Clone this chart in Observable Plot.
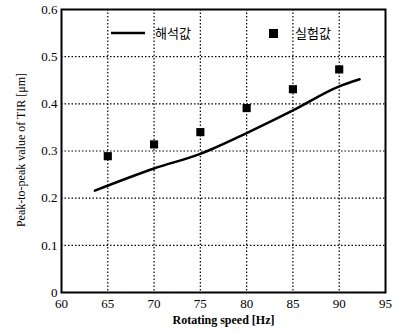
<!DOCTYPE html>
<html><head><meta charset="utf-8">
<script src="https://cdn.jsdelivr.net/npm/d3@7"></script>
<script src="https://cdn.jsdelivr.net/npm/@observablehq/plot@0.6"></script>
<style>
body{margin:0;background:#fff;}
#wrap{position:relative;width:393px;height:334px;}
.leg{position:absolute;font-family:"Noto Sans CJK KR",sans-serif;font-size:13px;color:#000;display:flex;align-items:center;}
</style></head>
<body><div id="wrap"></div>
<script>
const xTicks = [60,65,70,75,80,85,90,95];
const yTicks = [0,0.1,0.2,0.3,0.4,0.5,0.6];
const xGrid = [65,70,75,80,85,90];
const yGrid = [0.1,0.2,0.3,0.4,0.5];
// 해석값 (analysis)
const anaSpeed = [63.6,70,75,80,85,90,92.2];
const anaValue = [0.216,0.263,0.294,0.338,0.386,0.437,0.452];
// 실험값 (experiment)
const expSpeed = [65,70,75,80,85,90];
const expValue = [0.289,0.314,0.340,0.391,0.431,0.473];

const ana = anaSpeed.map((s,i)=>({s,v:anaValue[i]}));
const exp = expSpeed.map((s,i)=>({s,v:expValue[i]}));
const serif = "'Liberation Serif', 'Times New Roman', serif";
const yFmt = d=>d===0?"0":d3.format(".1f")(d);

const chart = Plot.plot({
  width:393, height:334,
  marginLeft:61, marginRight:8, marginTop:9, marginBottom:42,
  style:{fontFamily:serif, fontSize:"13px", color:"#000", background:"#fff"},
  x:{domain:[60,95], label:null},
  y:{domain:[0,0.6], label:null},
  marks:[
    Plot.ruleX(xGrid,{stroke:"#000",strokeWidth:1.2,strokeDasharray:"1.5,2"}),
    Plot.ruleY(yGrid,{stroke:"#000",strokeWidth:1.2,strokeDasharray:"1.5,2"}),
    Plot.frame({stroke:"#000",strokeWidth:2}),
    Plot.line(ana,{x:"s",y:"v",stroke:"#000",strokeWidth:2.5,curve:"monotone-x"}),
    Plot.dot(exp,{x:"s",y:"v",symbol:"square",r:4.6,fill:"#000",stroke:"none"}),
    Plot.axisX({ticks:xTicks,tickSize:0,tickPadding:6,fontSize:13,fontFamily:serif,label:null}),
    Plot.axisY({ticks:yTicks,tickSize:0,tickPadding:4,fontSize:13,fontFamily:serif,tickFormat:yFmt,label:null}),
    Plot.text(["Rotating speed [Hz]"],{frameAnchor:"bottom",dy:31,fontWeight:"bold",fontSize:12,fontFamily:serif})
  ]
});
const wrap = document.getElementById("wrap");
wrap.appendChild(chart);
const yl = document.createElement("div");
yl.textContent = "Peak-to-peak value of TIR [μm]";
Object.assign(yl.style,{position:"absolute",left:"21px",top:"150px",transform:"translate(-50%,-50%) rotate(-90deg)",whiteSpace:"nowrap",fontFamily:serif,fontSize:"12px",color:"#000"});
wrap.appendChild(yl);
const l1 = document.createElement("div");
l1.className="leg"; l1.style.left="111px"; l1.style.top="23px";
l1.innerHTML='<svg width="36" height="18"><line x1="0" y1="9" x2="34" y2="9" stroke="#000" stroke-width="2.5"/></svg><span style="margin-left:8px">해석값</span>';
wrap.appendChild(l1);
const l2 = document.createElement("div");
l2.className="leg"; l2.style.left="268px"; l2.style.top="23px";
l2.innerHTML='<svg width="12" height="18"><rect x="1" y="5" width="9" height="9" fill="#000"/></svg><span style="margin-left:15px">실험값</span>';
wrap.appendChild(l2);
</script></body></html>
